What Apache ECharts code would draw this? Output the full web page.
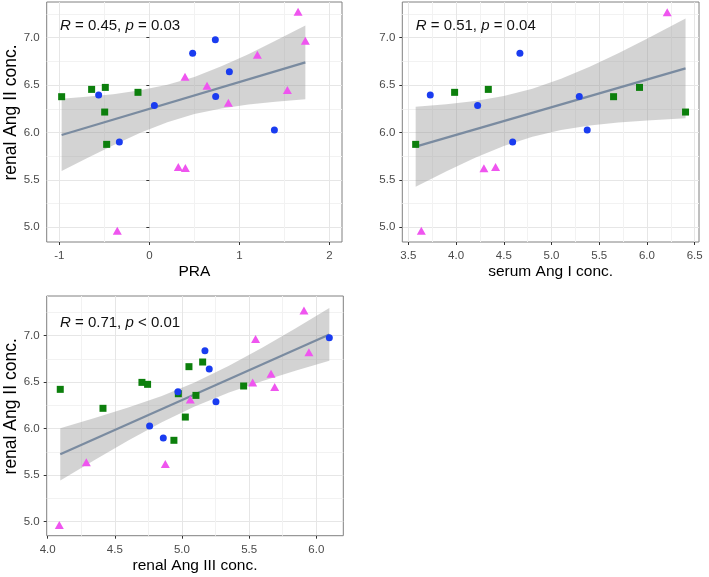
<!DOCTYPE html>
<html>
<head>
<meta charset="utf-8">
<script src="https://cdn.jsdelivr.net/npm/echarts@6/dist/echarts.min.js"></script>
<style>
html,body{margin:0;padding:0;background:#fff;}
#chart{width:709px;height:577px;}
</style>
</head>
<body>
<div id="chart"></div>
<script>
// ---------- Panel 1: PRA vs renal Ang II conc. ----------
const p1Green = [[-0.974,6.378],[-0.641,6.455],[-0.489,6.476],[-0.126,6.424],[-0.496,6.216],[-0.474,5.875]];
const p1Blue = [[-0.563,6.395],[0.056,6.286],[-0.333,5.900],[0.481,6.835],[0.733,6.979],[0.889,6.641],[0.737,6.381],[1.389,6.026]];
const p1Pink = [[1.652,7.274],[1.733,6.968],[1.200,6.820],[0.396,6.589],[0.641,6.494],[0.878,6.315],[1.533,6.448],[0.322,5.636],[0.400,5.626],[-0.356,4.965]];
const p1FitX = [-0.974, 1.733];
const p1FitY = [5.974, 6.740];
const p1BandX = [-0.974,-0.7,-0.4,-0.1,0.2,0.5,0.8,1.1,1.4,1.733];
const p1BandLow = [5.593,5.727,5.867,5.997,6.109,6.195,6.254,6.295,6.324,6.350];
const p1BandHigh = [6.355,6.377,6.405,6.445,6.503,6.587,6.698,6.827,6.968,7.130];
const p1XTicks = [-1,0,1,2];
const p1XMinor = [-0.5,0.5,1.5];

// ---------- Panel 2: serum Ang I conc. vs renal Ang II conc. ----------
const p2Green = [[3.577,5.875],[3.985,6.424],[4.338,6.455],[5.650,6.378],[5.922,6.476],[6.404,6.216]];
const p2Blue = [[3.730,6.395],[4.226,6.286],[4.669,6.835],[4.593,5.900],[5.291,6.381],[5.374,6.026]];
const p2Pink = [[6.212,7.270],[4.292,5.622],[4.414,5.636],[3.636,4.965]];
const p2FitX = [3.577, 6.404];
const p2FitY = [5.851, 6.677];
const p2BandX = [3.577,3.9,4.2,4.5,4.8,5.1,5.4,5.7,6.0,6.404];
const p2BandLow = [5.429,5.592,5.733,5.857,5.955,6.026,6.073,6.106,6.128,6.150];
const p2BandHigh = [6.273,6.298,6.333,6.385,6.461,6.566,6.693,6.836,6.990,7.204];
const p2XTicks = [3.5,4.0,4.5,5.0,5.5,6.0,6.5];
const p2XMinor = [3.75,4.25,4.75,5.25,5.75,6.25];

// ---------- Panel 3: renal Ang III conc. vs renal Ang II conc. ----------
const p3Green = [[4.094,6.423],[4.412,6.219],[4.702,6.498],[4.744,6.477],[4.973,6.376],[5.052,6.667],[5.154,6.717],[5.104,6.358],[5.025,6.125],[4.940,5.875],[5.459,6.459]];
const p3Blue = [[4.759,6.029],[4.861,5.900],[4.970,6.398],[5.171,6.839],[5.203,6.642],[5.253,6.290],[6.097,6.978]];
const p3Pink = [[5.908,7.272],[5.548,6.964],[5.945,6.821],[5.663,6.591],[5.526,6.498],[5.690,6.448],[5.062,6.315],[4.288,5.638],[4.876,5.620],[4.087,4.964]];
const p3FitX = [4.094, 6.097];
const p3FitY = [5.724, 7.014];
const p3BandX = [4.094,4.35,4.6,4.85,5.09,5.35,5.6,5.85,6.097];
const p3BandLow = [5.444,5.664,5.873,6.070,6.237,6.390,6.514,6.627,6.731];
const p3BandHigh = [6.004,6.114,6.227,6.352,6.493,6.676,6.874,7.083,7.297];
const p3XTicks = [4.0,4.5,5.0,5.5,6.0];
const p3XMinor = [4.25,4.75,5.25,5.75];

const yTicks = [5.0,5.5,6.0,6.5,7.0];
const yMinor = [5.25,5.75,6.25,6.75,7.25];

const yTitle = 'renal Ang II conc.';
const xTitles = ['PRA', 'serum Ang I conc.', 'renal Ang III conc.'];
const statLabels = [['0.45', '= 0.03'], ['0.51', '= 0.04'], ['0.71', '< 0.01']];

// ---------- styling ----------
const FONT = '"Liberation Sans", Arial, Helvetica, sans-serif';
const C_BLUE = '#1a3cf0';
const C_GREEN = '#0c7f0c';
const C_PINK = '#ef55ef';
const C_LINE = '#7a8ba0';
const C_BAND = 'rgba(150,150,150,0.42)';

const grids = [
  {left: 46.7, top: 2, width: 295.3, height: 240},
  {left: 402.3, top: 2, width: 296.7, height: 240},
  {left: 46.7, top: 296, width: 296.6, height: 239.7}
];
const xRanges = [[-1.14, 2.14], [3.437, 6.545], [3.993, 6.201]];
const yRanges = [[4.845, 7.377], [4.845, 7.377], [4.849, 7.427]];
const xTickSets = [p1XTicks, p2XTicks, p3XTicks];
const xMinorSets = [p1XMinor, p2XMinor, p3XMinor];
const xDecimals = [0, 1, 1];

const xAxes = [], yAxes = [], series = [];
grids.forEach((g, i) => {
  xAxes.push({
    type: 'value', gridIndex: i, min: xRanges[i][0], max: xRanges[i][1],
    name: xTitles[i], nameLocation: 'middle', nameGap: 22,
    nameTextStyle: {fontFamily: FONT, fontSize: 15.5, color: '#000'},
    axisLine: {show: false},
    axisTick: {show: true, length: 3, inside: false, customValues: xTickSets[i], lineStyle: {color: '#333', width: 1}},
    axisLabel: {customValues: xTickSets[i], margin: 8, fontFamily: FONT, fontSize: 11.5, color: '#4a4a4a',
      formatter: v => Number(v).toFixed(xDecimals[i])},
    splitLine: {show: true, lineStyle: {color: '#e6e6e6', width: 1}}
  });
  xAxes.push({
    type: 'value', gridIndex: i, min: xRanges[i][0], max: xRanges[i][1], position: 'bottom',
    axisLine: {show: false}, axisLabel: {show: false},
    axisTick: {show: false, customValues: xMinorSets[i]},
    splitLine: {show: true, lineStyle: {color: '#f2f2f2', width: 1}}
  });
  yAxes.push({
    type: 'value', gridIndex: i, min: yRanges[i][0], max: yRanges[i][1],
    name: i === 1 ? '' : yTitle, nameLocation: 'middle', nameGap: 25, nameRotate: 90,
    nameTextStyle: {fontFamily: FONT, fontSize: 17.5, color: '#000', padding: [0, 0, 0, 19]},
    axisLine: {show: false},
    axisTick: {show: true, length: 3, inside: false, customValues: yTicks, lineStyle: {color: '#333', width: 1}},
    axisLabel: {customValues: yTicks, margin: 7, fontFamily: FONT, fontSize: 11.5, color: '#4a4a4a',
      formatter: v => Number(v).toFixed(1)},
    splitLine: {show: true, lineStyle: {color: '#e6e6e6', width: 1}}
  });
  yAxes.push({
    type: 'value', gridIndex: i, min: yRanges[i][0], max: yRanges[i][1], position: 'left',
    axisLine: {show: false}, axisLabel: {show: false},
    axisTick: {show: false, customValues: yMinor},
    splitLine: {show: true, lineStyle: {color: '#f2f2f2', width: 1}}
  });
});

const panels = [
  {green: p1Green, blue: p1Blue, pink: p1Pink, fx: p1FitX, fy: p1FitY, bx: p1BandX, bl: p1BandLow, bh: p1BandHigh},
  {green: p2Green, blue: p2Blue, pink: p2Pink, fx: p2FitX, fy: p2FitY, bx: p2BandX, bl: p2BandLow, bh: p2BandHigh},
  {green: p3Green, blue: p3Blue, pink: p3Pink, fx: p3FitX, fy: p3FitY, bx: p3BandX, bl: p3BandLow, bh: p3BandHigh}
];

panels.forEach((p, i) => {
  const xi = i * 2, yi = i * 2;
  series.push({
    type: 'custom', xAxisIndex: xi, yAxisIndex: yi, z: 2, silent: true,
    data: [[p.bx[0], p.bl[0]]],
    renderItem: (params, api) => {
      const pts = [];
      for (let k = 0; k < p.bx.length; k++) pts.push(api.coord([p.bx[k], p.bh[k]]));
      for (let k = p.bx.length - 1; k >= 0; k--) pts.push(api.coord([p.bx[k], p.bl[k]]));
      return {type: 'polygon', shape: {points: pts}, style: {fill: C_BAND}};
    }
  });
  series.push({
    type: 'line', xAxisIndex: xi, yAxisIndex: yi, z: 3, silent: true,
    data: p.fx.map((x, k) => [x, p.fy[k]]),
    showSymbol: false, symbol: 'none',
    lineStyle: {color: C_LINE, width: 2.2}
  });
  series.push({
    type: 'scatter', xAxisIndex: xi, yAxisIndex: yi, z: 4,
    data: p.green, symbol: 'rect', symbolSize: 7, itemStyle: {color: C_GREEN, opacity: 1}
  });
  series.push({
    type: 'scatter', xAxisIndex: xi, yAxisIndex: yi, z: 4,
    data: p.blue, symbol: 'circle', symbolSize: 7, itemStyle: {color: C_BLUE, opacity: 1}
  });
  series.push({
    type: 'scatter', xAxisIndex: xi, yAxisIndex: yi, z: 4,
    data: p.pink, symbol: 'triangle', symbolSize: [9, 8], itemStyle: {color: C_PINK, opacity: 1}
  });
});

const labelPos = [[60, 18], [415.7, 18], [60, 315.8]];
const graphic = statLabels.map((s, i) => ({
  type: 'text', left: labelPos[i][0], top: labelPos[i][1], z: 10,
  style: {
    text: '{i|R} = ' + s[0] + ', {i|p} ' + s[1],
    fontFamily: FONT, fontSize: 15, fill: '#111',
    rich: {i: {fontStyle: 'italic', fontFamily: FONT, fontSize: 15, fill: '#111'}}
  }
}));

const chart = echarts.init(document.getElementById('chart'), null, {renderer: 'canvas'});
chart.setOption({
  animation: false,
  backgroundColor: '#ffffff',
  grid: grids.map(g => Object.assign({show: true, borderColor: '#808080', borderWidth: 1, backgroundColor: 'transparent', containLabel: false}, g)),
  xAxis: xAxes,
  yAxis: yAxes,
  series: series,
  graphic: graphic
});
</script>
</body>
</html>
